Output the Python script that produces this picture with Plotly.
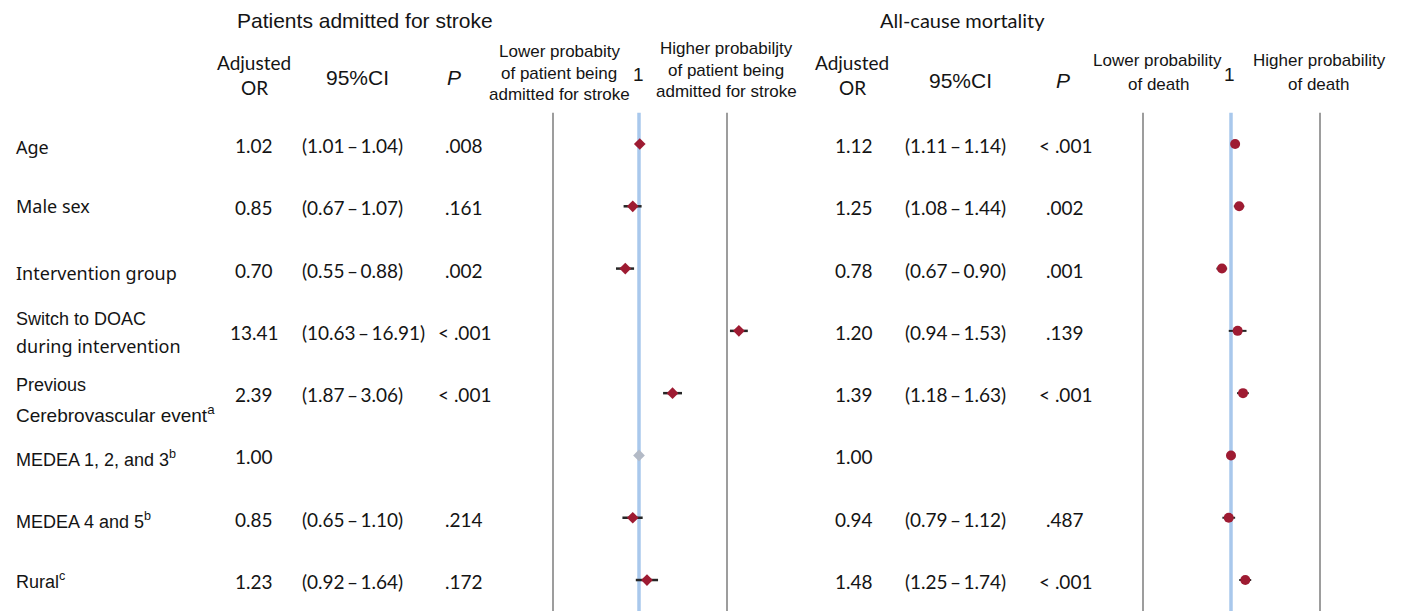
import plotly.graph_objects as go

# ---------------- data ----------------
variables = ["Age", "Male sex", "Intervention group", "Switch to DOAC during intervention",
             "Previous Cerebrovascular event", "MEDEA 1, 2, and 3", "MEDEA 4 and 5", "Rural"]

stroke_or = [1.02, 0.85, 0.70, 13.41, 2.39, 1.00, 0.85, 1.23]
stroke_lo = [1.01, 0.67, 0.55, 10.63, 1.87, None, 0.65, 0.92]
stroke_hi = [1.04, 1.07, 0.88, 16.91, 3.06, None, 1.10, 1.64]
stroke_p = [".008", ".161", ".002", "< .001", "< .001", "", ".214", ".172"]

mort_or = [1.12, 1.25, 0.78, 1.20, 1.39, 1.00, 0.94, 1.48]
mort_lo = [1.11, 1.08, 0.67, 0.94, 1.18, None, 0.79, 1.25]
mort_hi = [1.14, 1.44, 0.90, 1.53, 1.63, None, 1.12, 1.74]
mort_p = ["< .001", ".002", ".001", ".139", "< .001", "", ".487", "< .001"]

reference_row = 5  # MEDEA 1, 2, and 3 is the reference category

# ---------------- layout constants ----------------
W, H = 1402, 611
ROW0, ROWSTEP = 144, 62.29
LAB = "Noto Sans"
HEL = "Liberation Sans"
CAL = "Lato"
RED = "#9e1b32"
TXT = "#141414"

def px(x):
    return x / W

def py(y):
    return 1 - y / H

rows = list(range(len(variables)))

def err(orv, lo, hi):
    plus = [(h - o) if h is not None else 0 for o, h in zip(orv, hi)]
    minus = [(o - l) if l is not None else 0 for o, l in zip(orv, lo)]
    return plus, minus

fig = go.Figure()

# stroke panel
sp, sm = err(stroke_or, stroke_lo, stroke_hi)
idx = [i for i in rows if i != reference_row]
fig.add_trace(go.Scatter(
    x=[stroke_or[i] for i in idx], y=idx, mode="markers",
    marker=dict(symbol="diamond", size=9, color=RED),
    error_x=dict(type="data", symmetric=False, array=[sp[i] for i in idx],
                 arrayminus=[sm[i] for i in idx], width=0, thickness=2.5, color="#262626"),
    xaxis="x", yaxis="y", hoverinfo="skip", cliponaxis=False))
fig.add_trace(go.Scatter(
    x=[stroke_or[reference_row]], y=[reference_row], mode="markers",
    marker=dict(symbol="diamond", size=9, color="#b3bac6"),
    xaxis="x", yaxis="y", hoverinfo="skip"))

# mortality panel
mp, mm = err(mort_or, mort_lo, mort_hi)
fig.add_trace(go.Scatter(
    x=mort_or, y=rows, mode="markers",
    marker=dict(symbol="circle", size=10, color=RED),
    error_x=dict(type="data", symmetric=False, array=mp, arrayminus=mm,
                 width=0, thickness=2, color="#262626"),
    xaxis="x2", yaxis="y", hoverinfo="skip"))

# axes: log scales positioned so OR=1 lands on the blue lines
c1, k1 = 639, 88.6
c2, k2 = 1231, 84.0
split = 800
fig.update_layout(
    xaxis=dict(domain=[0, split / W], type="log",
               range=[(0 - c1) / k1, (split - c1) / k1], visible=False),
    xaxis2=dict(domain=[split / W, 1], type="log", anchor="y",
                range=[(split - c2) / k2, (W - c2) / k2], visible=False),
    yaxis=dict(domain=[0, 1], range=[(H - ROW0) / ROWSTEP, -ROW0 / ROWSTEP], visible=False),
)

shapes = []
for gx in [553, 727, 1143, 1320]:
    shapes.append(dict(type="line", xref="paper", yref="y", x0=px(gx), x1=px(gx),
                       y0=-0.5, y1=(H - ROW0) / ROWSTEP, line=dict(color="#9d9d9d", width=2),
                       layer="below"))
for xr in ["x", "x2"]:
    shapes.append(dict(type="line", xref=xr, yref="y", x0=1, x1=1,
                       y0=-0.5, y1=(H - ROW0) / ROWSTEP, line=dict(color="#a9c8ec", width=3.5),
                       layer="below"))

ann = []

def t(x, y, s, size, family, anchor="center", italic=False):
    if not s:
        return
    ann.append(dict(x=px(x), y=py(y), xref="paper", yref="paper", text=s, showarrow=False,
                    xanchor=anchor, yanchor="middle",
                    font=dict(size=size, family=family, color=TXT,
                              style="italic" if italic else "normal")))

# headers - stroke
t(365, 20, "Patients admitted for stroke", 21, HEL)
t(254, 62, "Adjusted", 19, CAL)
t(254, 87, "OR", 19, CAL)
t(357, 77, "95%CI", 21, HEL)
t(454, 77, "P", 21, HEL, italic=True)
for yy, s in zip([51, 73, 95], ["Lower probabity", "of patient being", "admitted for stroke"]):
    t(559, yy, s, 17, HEL)
t(638, 75, "1", 19, HEL)
for yy, s in zip([48, 70, 92], ["Higher probabiljty", "of patient being", "admitted for stroke"]):
    t(726, yy, s, 17, HEL)

# headers - mortality
t(962, 20, "All-cause mortality", 20, CAL)
t(852, 62, "Adjusted", 19, CAL)
t(852, 87, "OR", 19, CAL)
t(960, 80, "95%CI", 21, HEL)
t(1063, 80, "P", 21, HEL, italic=True)
t(1157, 61, "Lower probability", 17, HEL)
t(1158, 84, "of death", 17, HEL)
t(1229, 75, "1", 19, HEL)
t(1319, 61, "Higher probability", 17, HEL)
t(1318, 84, "of death", 17, HEL)

# row labels
label_parts = [
    ("Age", 147, LAB, 18), ("Male sex", 206, LAB, 18), ("Intervention group", 273, LAB, 18),
    ("Switch to DOAC", 319, HEL, 18), ("during intervention", 346, LAB, 18),
    ("Previous", 385, HEL, 18), ("Cerebrovascular event<sup>a</sup>", 414, HEL, 19),
    ("MEDEA 1, 2, and 3<sup>b</sup>", 458, HEL, 18), ("MEDEA 4 and 5<sup>b</sup>", 520, HEL, 18),
    ("Rural<sup>c</sup>", 580, HEL, 18),
]
for s, yy, fam, fs in label_parts:
    t(14, yy, s, fs, fam, anchor="left")

# value columns
def ci(lo, hi):
    if lo is None:
        return ""
    return f"({lo:.2f}\u2009\u2013\u2009{hi:.2f})"

for i in rows:
    yy = ROW0 + ROWSTEP * i + 1.5
    t(254, yy, f"{stroke_or[i]:.2f}", 19, CAL)
    t(300, yy, ci(stroke_lo[i], stroke_hi[i]), 19, CAL, anchor="left")
    t(464, yy, stroke_p[i], 19, CAL)
    t(854, yy, f"{mort_or[i]:.2f}", 19, CAL)
    t(903, yy, ci(mort_lo[i], mort_hi[i]), 19, CAL, anchor="left")
    t(1065, yy, mort_p[i], 19, CAL)

fig.update_layout(width=W, height=H, margin=dict(l=0, r=0, t=0, b=0),
                  paper_bgcolor="white", plot_bgcolor="white", showlegend=False,
                  shapes=shapes, annotations=ann)

fig.write_html("out.html", config={"displayModeBar": False},
               post_script="document.body.style.margin='0';document.body.style.overflow='hidden';")
